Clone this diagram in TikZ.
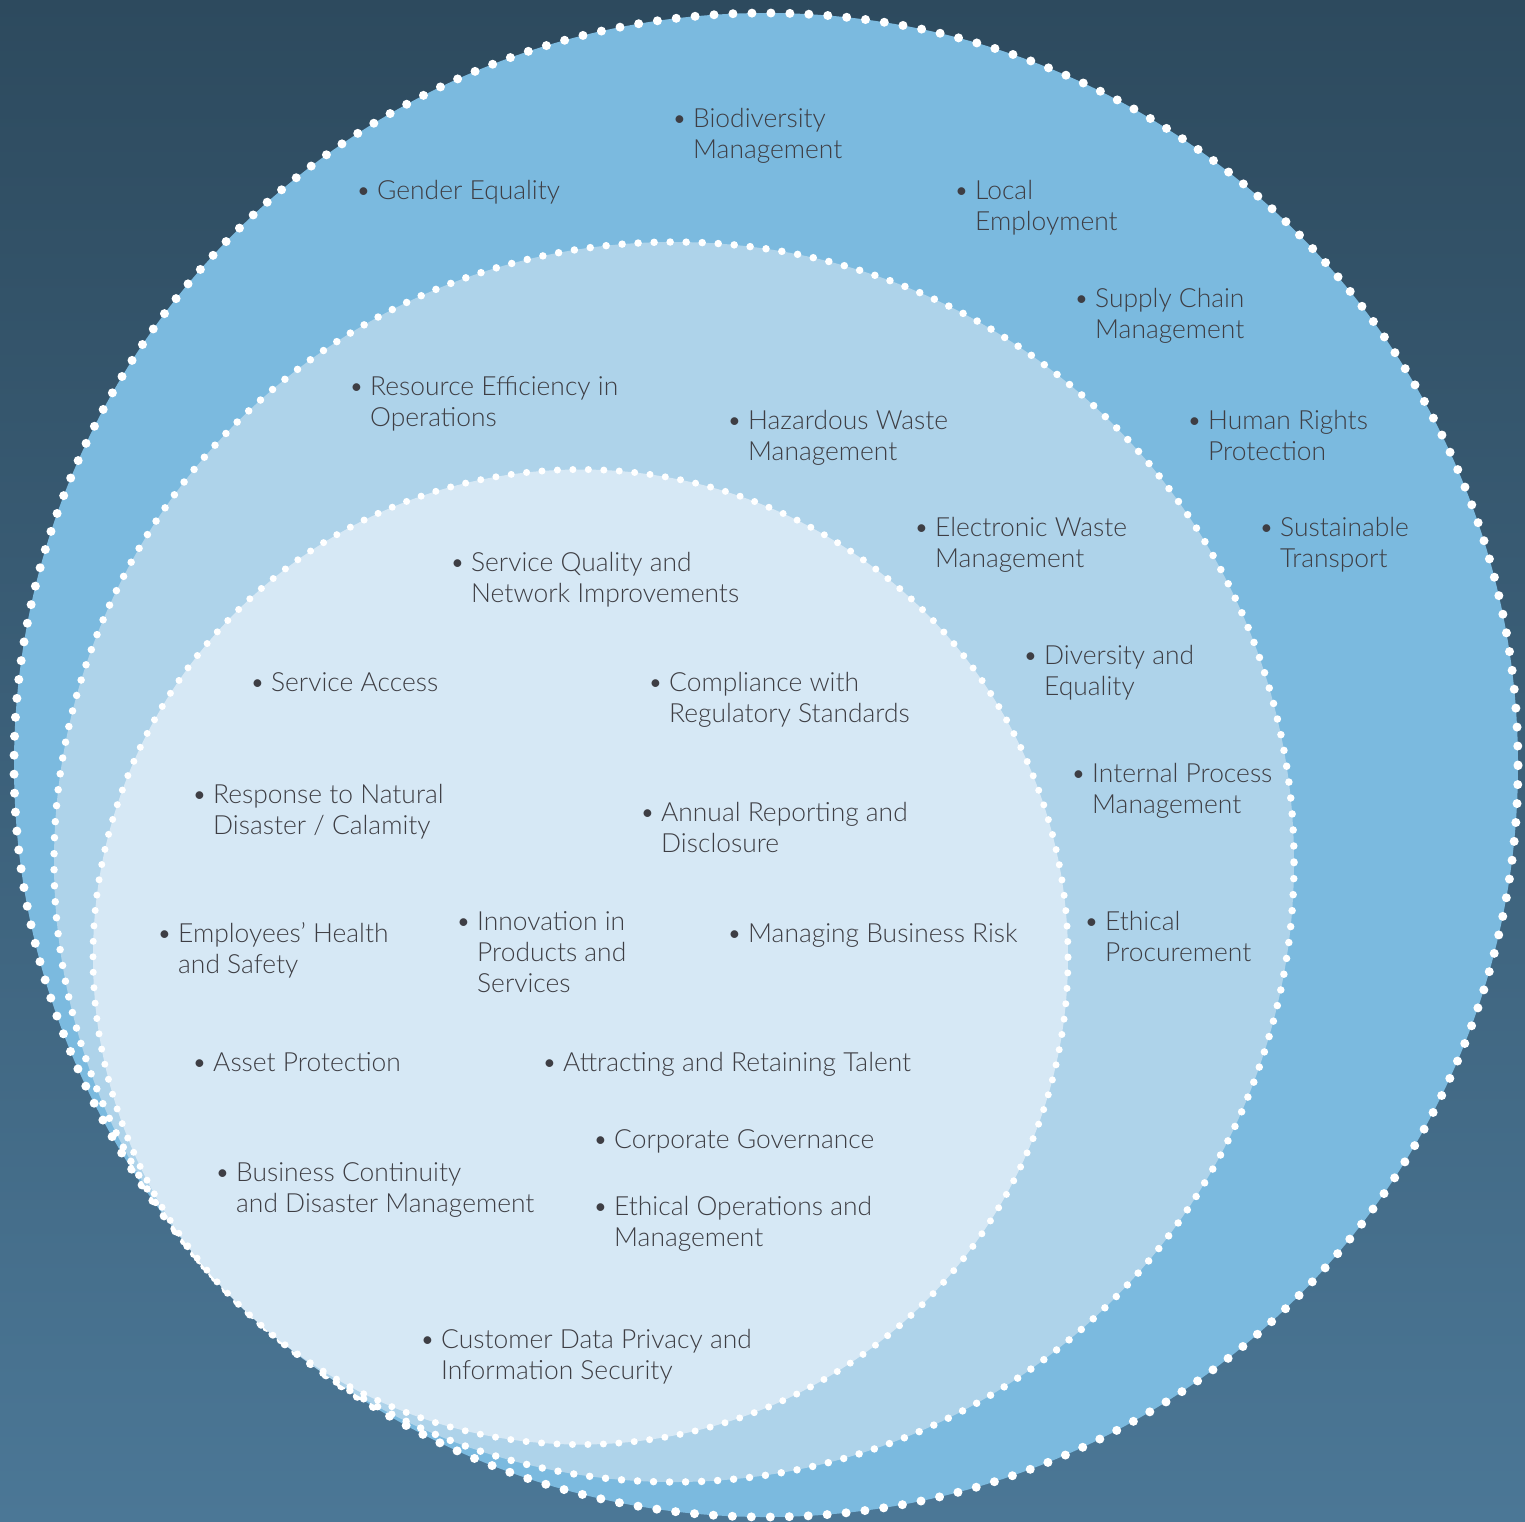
\documentclass[tikz,border=0pt]{standalone}
\usepackage{fontspec}
\setmainfont{Lato Light}
\definecolor{bgtop}{HTML}{2D4A5E}
\definecolor{bgbot}{HTML}{4B7796}
\definecolor{ringA}{HTML}{7BBADF}
\definecolor{ringB}{HTML}{AED3EA}
\definecolor{ringC}{HTML}{D6E8F5}
\definecolor{txt}{HTML}{3E3E44}
\tikzset{
  item/.style={anchor=north west, inner sep=0pt, align=left, text=txt,
    font=\fontsize{26.4}{31}\selectfont, yshift=20.7pt},
  dotring/.style={white, line cap=round}
}
\newcommand{\bul}{\strut\llap{\textbullet\hspace{6pt}}}
\begin{document}
\begin{tikzpicture}[x=1pt,y=-1pt]
\useasboundingbox (0,0) rectangle (1525,1521);
\shade[top color=bgtop,bottom color=bgbot] (0,0) rectangle (1525,1521);
% outer ring
\fill[ringA] (766,765) circle[radius=752pt];
\draw[dotring, line width=9pt, dash pattern=on 0pt off 18.976pt] (766,765) circle[radius=752pt];
% middle ring
\fill[ringB] (674,862) circle[radius=620pt];
\draw[dotring, line width=7.5pt, dash pattern=on 0pt off 16.031pt] (674,862) circle[radius=620pt];
% inner ring
\fill[ringC] (580.5,957) circle[radius=487.5pt];
\draw[dotring, line width=7pt, dash pattern=on 0pt off 15.47pt] (580.5,957) circle[radius=487.5pt];
% outer items
\node[item] (bio) at (693,126) {\bul Biodiversity\\Management};
\node[item] (gen) at (377,198) {\bul Gender Equality};
\node[item] (loc) at (975,198) {\bul Local\\Employment};
\node[item] (sup) at (1095,306) {\bul Supply Chain\\Management};
\node[item] (hum) at (1208,428) {\bul Human Rights\\Protection};
\node[item] (sus) at (1280,535) {\bul Sustainable\\Transport};
% middle items
\node[item] (res) at (370,394) {\bul Resource Efficiency in\\Operations};
\node[item] (haz) at (748,428) {\bul Hazardous Waste\\Management};
\node[item] (ele) at (935,535) {\bul Electronic Waste\\Management};
\node[item] (div) at (1044,663) {\bul Diversity and\\Equality};
\node[item] (int) at (1092,781) {\bul Internal Process\\Management};
\node[item] (eth) at (1105,929) {\bul Ethical\\Procurement};
% inner items
\node[item] (sq) at (471,570) {\bul Service Quality and\\Network Improvements};
\node[item] (sa) at (271,690) {\bul Service Access};
\node[item] (com) at (669,690) {\bul Compliance with\\Regulatory Standards};
\node[item] (rnd) at (213,802) {\bul Response to Natural\\Disaster / Calamity};
\node[item] (ann) at (661,820) {\bul Annual Reporting and\\Disclosure};
\node[item] (ehs) at (178,941) {\bul Employees’ Health\\and Safety};
\node[item] (inn) at (477,929) {\bul Innovation in\\Products and\\Services};
\node[item] (mbr) at (748,941) {\bul Managing Business Risk};
\node[item] (ap) at (213,1070) {\bul Asset Protection};
\node[item] (art) at (563,1070) {\bul Attracting and Retaining Talent};
\node[item] (cg) at (614,1147) {\bul Corporate Governance};
\node[item] (bcd) at (236,1180) {\bul Business Continuity\\and Disaster Management};
\node[item] (eom) at (614,1214) {\bul Ethical Operations and\\Management};
\node[item] (cdp) at (441,1347) {\bul Customer Data Privacy and\\Information Security};
\end{tikzpicture}
\end{document}
